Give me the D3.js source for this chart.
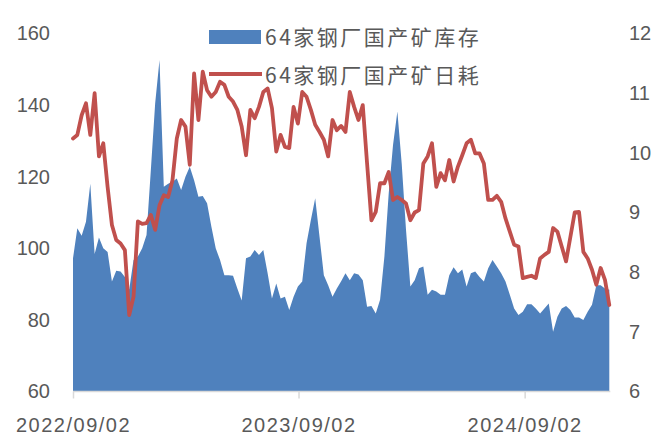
<!DOCTYPE html>
<meta charset="utf-8">
<style>
body { margin: 0; background: #fff; }
svg text { font-family: "Liberation Sans", Arial, sans-serif; fill: #595959; }
.legend text { font-family: "Noto Sans CJK SC", sans-serif; }
</style>
<body>
<div id="chart"></div>
<script src="https://cdn.jsdelivr.net/npm/d3@7"></script>
<script>
// weekly data, first week 2022/09/02
var startDate = "2022-09-02";
var seriesNames = ["64家钢厂国产矿库存", "64家钢厂国产矿日耗"];
var xTickLabels = ["2022/09/02", "2023/09/02", "2024/09/02"];
var leftTicks = [60, 80, 100, 120, 140, 160];
var rightTicks = [6, 7, 8, 9, 10, 11, 12];

// 库存 (left axis)
var stock = [
  97.2, 105.6, 103.5, 107.4, 118.0, 98.4, 103.0, 100.0, 99.0, 90.7,
  93.7, 93.5, 92.0, 88.5, 96.7, 97.7, 100.0, 103.7, 121.9, 140.5,
  152.6, 117.2, 118.0, 118.6, 119.5, 116.3, 120.0, 122.8, 119.0, 114.4,
  114.6, 112.6, 106.0, 100.0, 96.7, 92.5, 92.5, 92.3, 88.8, 85.4,
  97.2, 97.7, 99.5, 98.1, 99.5, 93.0, 86.0, 90.2, 86.0, 86.5,
  82.8, 86.5, 89.3, 90.7, 101.4, 107.9, 114.0, 103.2, 92.5, 89.7,
  86.5, 88.8, 90.8, 93.0, 91.1, 93.0, 92.7, 91.1, 83.7, 83.9,
  81.8, 85.6, 97.7, 115.4, 128.9, 138.2, 123.7, 105.1, 89.3, 91.1,
  94.4, 94.9, 87.0, 88.4, 87.9, 87.0, 87.0, 92.5, 94.7, 93.0,
  94.1, 89.3, 93.0, 93.5, 92.0, 90.7, 94.4, 96.7, 94.9, 93.0,
  90.7, 87.0, 83.2, 81.4, 82.3, 84.4, 84.4, 83.2, 81.8, 83.2,
  84.6, 76.7, 80.9, 83.2, 83.9, 82.8, 80.7, 80.7, 80.0, 82.3,
  84.2, 89.7, 89.7, 88.8, 88.4
];

// 日耗 (right axis)
var usage = [
  10.24, 10.30, 10.63, 10.83, 10.30, 11.00, 9.94, 10.16, 9.43, 8.79,
  8.54, 8.48, 8.37, 7.28, 7.59, 8.85, 8.81, 8.82, 8.96, 8.71,
  9.12, 9.29, 9.26, 9.54, 10.24, 10.55, 10.44, 9.80, 11.33, 10.55,
  11.36, 11.05, 10.94, 11.02, 11.19, 11.14, 10.94, 10.86, 10.72, 10.44,
  9.96, 10.72, 10.58, 10.77, 11.02, 11.08, 10.75, 10.02, 10.30, 10.10,
  10.08, 10.77, 10.49, 11.02, 10.94, 10.72, 10.47, 10.35, 10.22, 9.94,
  10.55, 10.38, 10.45, 10.35, 11.02, 10.77, 10.55, 10.80, 9.82, 8.87,
  9.01, 9.49, 9.49, 9.68, 9.21, 9.26, 9.21, 9.15, 8.87, 9.00,
  9.04, 9.82, 9.94, 10.16, 9.43, 9.66, 9.54, 9.88, 9.52, 9.77,
  9.96, 10.16, 10.22, 9.99, 9.99, 9.82, 9.21, 9.21, 9.28, 9.18,
  8.90, 8.68, 8.46, 8.43, 7.90, 7.92, 7.94, 7.90, 8.23, 8.29,
  8.34, 8.74, 8.68, 8.43, 8.18, 8.59, 9.00, 9.01, 8.34, 8.23,
  8.04, 7.79, 8.07, 7.87, 7.45
];

var width = 668, height = 436;
var x0 = 73, x1 = 609.3, yTop = 33.5, yBottom = 391.5;

var parse = d3.timeParse("%Y-%m-%d");
var fmtIn = d3.timeParse("%Y/%m/%d");
var start = parse(startDate);
var dates = stock.map(function(d, i) { return d3.timeDay.offset(start, 7 * i); });

var svg = d3.select("#chart").append("svg").attr("width", width).attr("height", height);

var x = d3.scaleTime().domain([dates[0], dates[dates.length - 1]]).range([x0, x1]);
var yL = d3.scaleLinear().domain([60, 160]).range([yBottom, yTop]);
var yR = d3.scaleLinear().domain([6, 12]).range([yBottom, yTop]);

// area
var area = d3.area()
  .x(function(d, i) { return x(dates[i]); })
  .y0(yL(60))
  .y1(function(d) { return yL(d); });

svg.append("path")
  .datum(stock)
  .attr("d", area)
  .attr("fill", "#4f81bd");

// line
var line = d3.line()
  .x(function(d, i) { return x(dates[i]); })
  .y(function(d) { return yR(d); });

svg.append("path")
  .datum(usage)
  .attr("d", line)
  .attr("fill", "none")
  .attr("stroke", "#c0504d")
  .attr("stroke-width", 3.8)
  .attr("stroke-linejoin", "round")
  .attr("stroke-linecap", "round");

// x axis
var tickDates = xTickLabels.map(function(s) { return fmtIn(s); });
var xAxis = svg.append("g")
  .attr("transform", "translate(0," + yBottom + ")")
  .call(d3.axisBottom(x).tickValues(tickDates).tickSize(7).tickSizeOuter(0)
    .tickFormat(function(d, i) { return xTickLabels[i]; }));
xAxis.select(".domain").attr("stroke", "#d9d9d9").attr("stroke-width", 1.5)
  .attr("d", "M" + x0 + ",0H" + (x1 + 1));
xAxis.selectAll(".tick line").attr("stroke", "#d9d9d9").attr("stroke-width", 1.5);
xAxis.selectAll(".tick text")
  .attr("y", 33)
  .attr("dy", "0.35em")
  .style("font-size", "20px")
  .style("letter-spacing", "1.5px")
  .style("fill", "#595959");

// left axis
var lAxis = svg.append("g")
  .attr("transform", "translate(50,0)")
  .call(d3.axisLeft(yL).tickValues(leftTicks).tickSize(0).tickFormat(d3.format("d")));
lAxis.select(".domain").remove();
lAxis.selectAll("text").attr("x", 0).style("font-size", "20px").style("fill", "#595959");

// right axis
var rAxis = svg.append("g")
  .attr("transform", "translate(629,0)")
  .call(d3.axisRight(yR).tickValues(rightTicks).tickSize(0).tickFormat(d3.format("d")));
rAxis.select(".domain").remove();
rAxis.selectAll("text").attr("x", 0).style("font-size", "20px").style("fill", "#595959");

// legend
var legend = svg.append("g").attr("class", "legend");
legend.append("rect")
  .attr("x", 209).attr("y", 30).attr("width", 52).attr("height", 14)
  .attr("fill", "#4f81bd");
legend.append("line")
  .attr("x1", 209).attr("x2", 262).attr("y1", 74).attr("y2", 74)
  .attr("stroke", "#c0504d").attr("stroke-width", 3.8);
legend.selectAll("text.lg")
  .data(seriesNames)
  .enter()
  .append("text")
  .attr("class", "lg")
  .attr("x", 265)
  .attr("y", function(d, i) { return i === 0 ? 37.5 : 75; })
  .attr("dy", "0.36em")
  .style("font-size", "21px")
  .style("letter-spacing", "2.5px")
  .style("fill", "#595959")
  .text(function(d) { return d; });
</script>
</body>
